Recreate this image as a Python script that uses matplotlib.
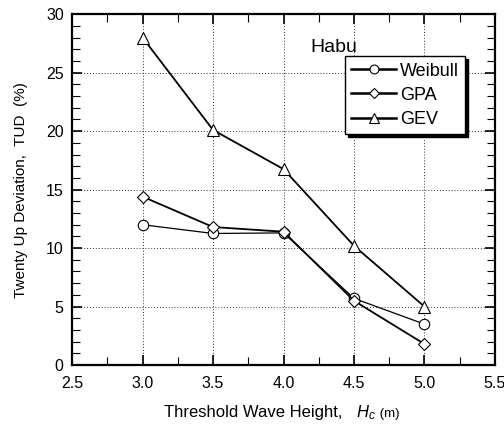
import matplotlib
matplotlib.use("Agg")
import matplotlib.pyplot as plt
from matplotlib.ticker import MultipleLocator, FormatStrFormatter
from matplotlib.offsetbox import TextArea, HPacker, AnchoredOffsetbox

plt.rcParams['font.family'] = ['Liberation Sans', 'DejaVu Sans']
plt.rcParams['mathtext.fontset'] = 'custom'
plt.rcParams['mathtext.rm'] = 'Liberation Sans'
plt.rcParams['mathtext.it'] = 'Liberation Sans:italic'

# Threshold wave heights (m) and TUD (%) for each distribution
threshold = [3.0, 3.5, 4.0, 4.5, 5.0]
weibull = [12.0, 11.25, 11.3, 5.7, 3.5]
gpa = [14.4, 11.8, 11.4, 5.5, 1.8]
gev = [28.0, 20.1, 16.75, 10.2, 5.0]

fig = plt.figure(figsize=(5.04, 4.28), dpi=100)
ax = fig.add_axes([0.143, 0.147, 0.839, 0.820])

mk = dict(markerfacecolor='white', markeredgecolor='black', markeredgewidth=0.8, color='black')
ax.plot(threshold, weibull, marker='o', markersize=7.5, linewidth=0.9, label='Weibull', zorder=3, **mk)
ax.plot(threshold, gpa, marker='D', markersize=6.5, linewidth=1.3, label='GPA', zorder=4, **mk)
ax.plot(threshold, gev, marker='^', markersize=9, linewidth=1.3, label='GEV', zorder=3, **mk)

ax.set_xlim(2.5, 5.5)
ax.set_ylim(0, 30)
ax.xaxis.set_major_locator(MultipleLocator(0.5))
ax.xaxis.set_minor_locator(MultipleLocator(0.25))
ax.yaxis.set_major_locator(MultipleLocator(5))
ax.yaxis.set_minor_locator(MultipleLocator(1))
ax.xaxis.set_major_formatter(FormatStrFormatter('%.1f'))

ax.tick_params(which='both', direction='in', top=True, right=True, labelsize=11.5, color='black')
ax.tick_params(which='major', length=7, width=1.2)
ax.tick_params(which='minor', length=6, width=0.8)
ax.tick_params(axis='x', which='major', pad=8)
ax.tick_params(axis='y', which='major', pad=6)

ax.grid(True, which='major', color='#333333', linestyle=(0, (1, 2)), linewidth=0.7)
for s in ax.spines.values():
    s.set_linewidth(1.6)

ax.set_ylabel('Twenty Up Deviation,  TUD  (%)', fontsize=11, labelpad=13)

# x-axis title: main text, italic symbol and a smaller unit, centred under the axes
xlab = HPacker(children=[
    TextArea('Threshold Wave Height,   ', textprops=dict(fontsize=12)),
    TextArea(r'$H_c$', textprops=dict(fontsize=12)),
    TextArea(' (m)', textprops=dict(fontsize=9.5)),
], align='baseline', pad=0, sep=0)
ax.add_artist(AnchoredOffsetbox(loc='upper center', child=xlab, frameon=False, pad=0,
                                borderpad=0, bbox_to_anchor=(0.495, -0.108),
                                bbox_transform=ax.transAxes))

ax.text(0.563, 0.892, 'Habu', transform=ax.transAxes, fontsize=14, ha='left', va='baseline')

leg = ax.legend(loc='upper left', bbox_to_anchor=(0.645, 0.88), borderaxespad=0,
                fontsize=13, handlelength=2.5, handletextpad=0.2, labelspacing=0.4,
                borderpad=0.35, markerscale=0.85,
                fancybox=False, framealpha=1, edgecolor='black',
                shadow={'color': 'black', 'alpha': 1, 'ox': 2.2, 'oy': -2.2})
leg.get_frame().set_linewidth(1.0)
for line in leg.get_lines():
    line.set_linewidth(1.8)

fig.savefig('out.png', dpi=100)
